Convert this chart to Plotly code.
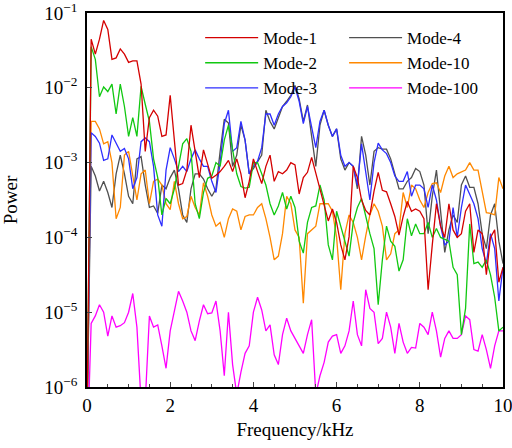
import plotly.graph_objects as go

# Frequency axis (kHz)
freq = [0.0, 0.1, 0.2, 0.3, 0.4, 0.5, 0.6, 0.7, 0.8, 0.9,
        1.0, 1.1, 1.2, 1.3, 1.4, 1.5, 1.6, 1.7, 1.8, 1.9,
        2.0, 2.1, 2.2, 2.3, 2.4, 2.5, 2.6, 2.7, 2.8, 2.9,
        3.0, 3.1, 3.2, 3.3, 3.4, 3.5, 3.6, 3.7, 3.8, 3.9,
        4.0, 4.1, 4.2, 4.3, 4.4, 4.5, 4.6, 4.7, 4.8, 4.9,
        5.0, 5.1, 5.2, 5.3, 5.4, 5.5, 5.6, 5.7, 5.8, 5.9,
        6.0, 6.1, 6.2, 6.3, 6.4, 6.5, 6.6, 6.7, 6.8, 6.9,
        7.0, 7.1, 7.2, 7.3, 7.4, 7.5, 7.6, 7.7, 7.8, 7.9,
        8.0, 8.1, 8.2, 8.3, 8.4, 8.5, 8.6, 8.7, 8.8, 8.9,
        9.0, 9.1, 9.2, 9.3, 9.4, 9.5, 9.6, 9.7, 9.8, 9.9, 10.0]

# Power, given as log10 exponents
mode1_exp = [-6.5, -1.35, -1.55, -1.35, -1.10, -1.22, -1.62, -1.60, -1.48, -1.55, -1.66,
             -1.64, -1.64, -1.95, -2.85, -2.40, -2.30, -2.38, -2.65, -2.63, -2.10,
             -2.75, -3.30, -3.28, -3.10, -2.50, -2.87, -3.20, -2.83, -3.02, -3.21,
             -3.17, -3.12, -3.05, -2.97, -3.12, -2.95, -3.15, -3.47, -3.25, -2.95,
             -3.12, -3.28, -3.05, -2.90, -3.25, -3.12, -3.15, -3.10, -3.00, -3.03,
             -3.42, -3.20, -3.13, -2.93, -3.14, -3.35, -3.55, -3.78, -3.62, -3.80,
             -4.10, -4.30, -3.99, -3.05, -3.20, -3.50, -3.64, -3.70, -3.38, -3.13,
             -3.37, -3.39, -3.55, -3.72, -3.97, -3.72, -3.52, -3.65, -3.62, -3.65,
             -3.75, -4.70, -4.10, -3.55, -3.85, -4.00, -3.55, -3.90, -4.00, -3.95,
             -3.65, -3.55, -4.20, -3.90, -3.95, -4.50, -4.00, -3.90, -4.60, -4.40]

mode2_exp = [-6.5, -1.45, -1.62, -2.12, -1.99, -2.05, -1.95, -2.35, -1.95, -2.25, -2.65,
             -2.40, -2.65, -1.98, -2.22, -2.45, -2.95, -3.20, -3.70, -3.48, -3.55,
             -3.35, -3.05, -2.75, -2.68, -2.85, -3.55, -3.75, -3.40, -3.21, -3.18,
             -3.00, -3.05, -2.70, -2.50, -2.85, -3.15, -3.32, -3.34, -3.33, -3.00,
             -3.00, -3.15, -3.30, -3.55, -3.70, -3.58, -3.40, -3.62, -3.45, -3.60,
             -4.05, -4.21, -3.80, -3.60, -3.58, -3.30, -3.50, -4.10, -4.30, -3.65,
             -3.85, -4.05, -4.25, -3.80, -3.60, -3.48, -3.72, -3.95, -4.15, -4.90,
             -4.30, -3.85, -4.05, -4.12, -4.45, -4.30, -3.75, -3.98, -3.82, -3.95,
             -3.95, -3.80, -4.00, -3.88, -4.00, -4.02, -4.05, -4.40, -4.50, -5.30,
             -4.95, -3.82, -4.35, -4.33, -4.40, -4.30, -4.50, -4.80, -5.25, -5.20]

mode3_exp = [-6.5, -2.60, -2.65, -2.74, -2.97, -2.95, -2.63, -2.73, -2.85, -2.81, -2.95,
             -3.35, -3.20, -2.72, -2.67, -2.72, -3.05, -3.70, -3.85, -3.10, -2.80,
             -2.95, -3.12, -3.05, -3.12, -2.95, -2.83, -2.95, -3.05, -3.05, -3.25,
             -3.40, -3.00, -2.48, -2.30, -2.85, -2.80, -2.45, -2.70, -3.15, -3.05,
             -2.98, -2.80, -2.35, -2.35, -2.50, -2.35, -2.25, -2.20, -2.12, -1.99,
             -2.18, -2.48, -2.25, -2.55, -2.80, -2.45, -2.30, -2.50, -2.65, -2.55,
             -2.90, -3.05, -3.00, -3.05, -3.30, -2.75, -3.10, -3.50, -3.00, -2.74,
             -2.83, -2.88, -3.00, -3.18, -3.25, -3.25, -3.12, -3.45, -3.30, -3.30,
             -3.35, -3.60, -3.30, -3.50, -3.85, -4.10, -4.05, -3.60, -4.00, -3.60,
             -3.30, -3.42, -3.55, -3.75, -4.15, -4.35, -3.95, -4.15, -4.85, -4.40]

mode4_exp = [-6.5, -3.05, -3.18, -3.38, -3.25, -3.40, -3.60, -3.15, -2.90, -3.15, -3.45,
             -3.55, -2.95, -2.92, -3.30, -3.60, -3.58, -3.68, -3.30, -3.35, -3.20,
             -3.10, -3.35, -3.70, -3.80, -3.35, -3.15, -3.15, -3.22, -3.35, -3.45,
             -3.35, -2.85, -2.42, -2.47, -3.05, -2.90, -2.50, -2.70, -3.15, -3.08,
             -2.99, -2.90, -2.30, -2.45, -2.55, -2.40, -2.25, -2.18, -2.10, -1.97,
             -2.15, -2.45, -2.23, -2.65, -3.05, -2.50, -2.30, -2.50, -2.65, -2.55,
             -2.95, -3.10, -3.00, -3.05, -3.35, -2.65, -2.90, -3.30, -2.85, -2.80,
             -2.82, -2.82, -2.95, -3.15, -3.35, -3.35, -3.25, -3.20, -3.08, -3.12,
             -3.30, -3.95, -3.45, -3.10, -3.70, -4.20, -3.90, -3.70, -3.80, -3.30,
             -3.18, -3.33, -3.33, -3.55, -3.95, -4.15, -3.70, -3.55, -4.05, -4.35]

mode10_exp = [-6.5, -2.45, -2.45, -2.55, -2.75, -2.72, -3.00, -3.75, -3.60, -2.90, -2.85,
              -3.20, -3.50, -3.15, -3.10, -3.55, -3.25, -3.22, -3.30, -3.55, -3.63,
              -3.25, -3.55, -3.75, -3.72, -3.45, -3.60, -3.70, -3.27, -3.45, -3.70,
              -3.85, -3.80, -4.00, -3.75, -3.62, -3.65, -3.90, -3.72, -3.70, -3.70,
              -3.60, -3.55, -3.75, -4.00, -4.30, -4.25, -3.95, -3.45, -3.55, -3.90,
              -4.00, -4.88, -3.95, -3.90, -3.85, -3.55, -3.55, -3.55, -3.65, -4.00,
              -4.70, -3.95, -3.70, -3.80, -4.00, -4.30, -3.98, -3.70, -3.55, -3.65,
              -3.85, -4.30, -4.22, -3.95, -3.90, -3.40, -3.60, -3.30, -3.35, -3.50,
              -3.60, -3.40, -3.28, -3.27, -3.40, -3.18, -3.05, -3.20, -3.15, -3.12,
              -3.10, -3.00, -3.10, -3.10, -3.40, -3.67, -3.68, -3.70, -3.20, -3.35]

mode100_exp = [-7.0, -5.15, -5.05, -4.90, -5.00, -5.32, -5.05, -5.20, -5.18, -5.14, -5.00,
               -4.75, -5.20, -6.20, -6.20, -5.05, -5.20, -5.17, -5.45, -5.75, -5.25,
               -5.00, -4.72, -4.85, -5.00, -5.25, -5.38, -5.12, -4.90, -5.02, -5.01,
               -4.85, -5.25, -5.85, -5.00, -5.70, -6.10, -5.80, -5.55, -5.45, -5.00,
               -4.80, -4.97, -5.25, -5.17, -5.57, -5.70, -5.30, -5.08, -5.25, -5.35,
               -5.43, -5.55, -5.30, -5.10, -6.10, -5.85, -5.67, -5.40, -5.32, -5.30,
               -5.55, -5.45, -5.25, -4.85, -5.30, -5.45, -4.70, -4.95, -5.00, -5.42,
               -5.35, -5.00, -5.20, -5.55, -5.15, -5.40, -5.55, -5.47, -5.48, -5.15,
               -5.20, -5.30, -5.00, -5.25, -5.60, -5.35, -5.25, -5.35, -5.35, -5.30,
               -5.05, -5.10, -5.50, -5.52, -5.30, -5.50, -5.75, -5.45, -5.25, -5.25]

y_tick_vals = [1e-6, 1e-5, 1e-4, 1e-3, 1e-2, 1e-1]
y_tick_text = ["10<sup>\u22126</sup>", "10<sup>\u22125</sup>", "10<sup>\u22124</sup>",
               "10<sup>\u22123</sup>", "10<sup>\u22122</sup>", "10<sup>\u22121</sup>"]
x_tick_vals = [0, 2, 4, 6, 8, 10]

# (name, exponents, colour, legend, rank) - drawing order
series = [
    ("Mode-4", mode4_exp, "#505050", "legend2", 1),
    ("Mode-10", mode10_exp, "#ff8800", "legend2", 2),
    ("Mode-100", mode100_exp, "#ff00ff", "legend2", 3),
    ("Mode-3", mode3_exp, "#2e2eff", "legend", 3),
    ("Mode-2", mode2_exp, "#11c811", "legend", 2),
    ("Mode-1", mode1_exp, "#d40000", "legend", 1),
]

fig = go.Figure()
for name, exps, color, leg, rank in series:
    fig.add_trace(go.Scatter(
        x=freq, y=[10 ** e for e in exps], mode="lines", name=name,
        line=dict(color=color, width=1.3), legend=leg, legendrank=rank,
    ))

font_family = "Liberation Serif"
leg_common = dict(xanchor="left", yanchor="top", bgcolor="rgba(0,0,0,0)",
                  tracegroupgap=0, itemwidth=53,
                  font=dict(family=font_family, size=17))
fig.update_layout(
    width=512, height=448,
    margin=dict(l=87, r=9, t=13, b=61, autoexpand=False),
    plot_bgcolor="white", paper_bgcolor="white",
    font=dict(family=font_family, size=19, color="black"),
    showlegend=True,
    legend=dict(x=0.272, y=0.981, **leg_common),
    legend2=dict(x=0.618, y=0.981, **leg_common),
)
fig.update_xaxes(
    range=[0, 10], tickvals=x_tick_vals, ticks="inside", ticklen=5, tickwidth=1,
    minor=dict(dtick=0.5, ticks="inside", ticklen=3, tickwidth=1, showgrid=False),
    showline=True, linecolor="black", linewidth=1.5, mirror=True,
    showgrid=False, zeroline=False, automargin=False, ticklabeloverflow="allow",
    title=dict(text="Frequency/kHz", font=dict(size=19), standoff=8),
)
fig.update_yaxes(
    type="log", range=[-6, -1], tickvals=y_tick_vals, ticktext=y_tick_text,
    ticks="inside", ticklen=5, tickwidth=1, ticklabelstandoff=4,
    showline=True, linecolor="black", linewidth=1.5, mirror=True,
    showgrid=False, zeroline=False, automargin=False, ticklabeloverflow="allow",
    title=dict(text="Power", font=dict(size=19), standoff=24),
)

# Remove the browser's default 8 px body margin so the figure fills the window.
fig.write_html("out.html",
               config={"displayModeBar": False},
               post_script="document.body.style.margin='0';"
                           "document.body.style.overflow='hidden';")
